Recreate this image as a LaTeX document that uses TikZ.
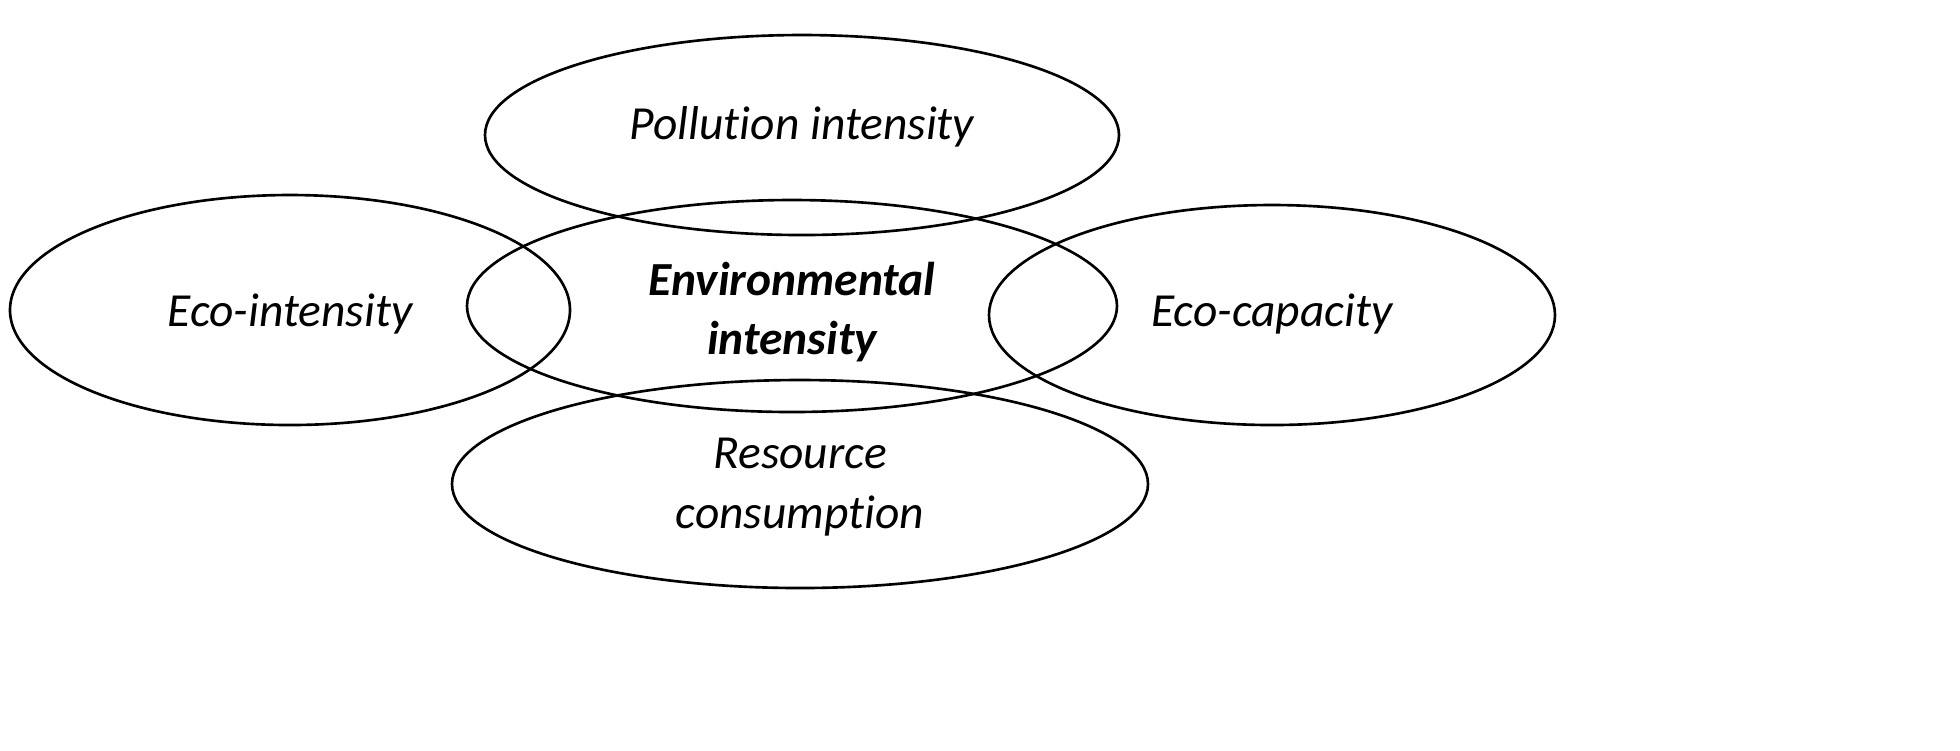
\documentclass[tikz,border=0pt]{standalone}
\usepackage{fontspec}
\setmainfont{Carlito}[Ligatures={NoCommon}]
\begin{document}
\begin{tikzpicture}[x=0.01cm,y=-0.01cm,
  ell/.style={draw=black,line width=0.75pt},
  lbl/.style={font=\fontsize{13.5}{17}\selectfont\itshape,align=center}]
\useasboundingbox (0,0) rectangle (1960,750);
\draw[ell] (802,135) ellipse [x radius=317,y radius=100];
\draw[ell] (290,310) ellipse [x radius=280,y radius=115];
\draw[ell] (792,306) ellipse [x radius=325,y radius=106];
\draw[ell] (1272,315) ellipse [x radius=283,y radius=110];
\draw[ell] (800,484) ellipse [x radius=348,y radius=104];
\node[lbl] (p) at (802,127) {Pollution intensity};
\node[lbl] (e) at (290,314) {Eco-intensity};
\node[lbl,font=\fontsize{13.5}{17}\selectfont\bfseries\itshape] (c) at (792,312) {Environmental\\intensity};
\node[lbl] (k) at (1272,314) {Eco-capacity};
\node[lbl] (r) at (800,487) {Resource\\consumption};
\end{tikzpicture}
\end{document}
